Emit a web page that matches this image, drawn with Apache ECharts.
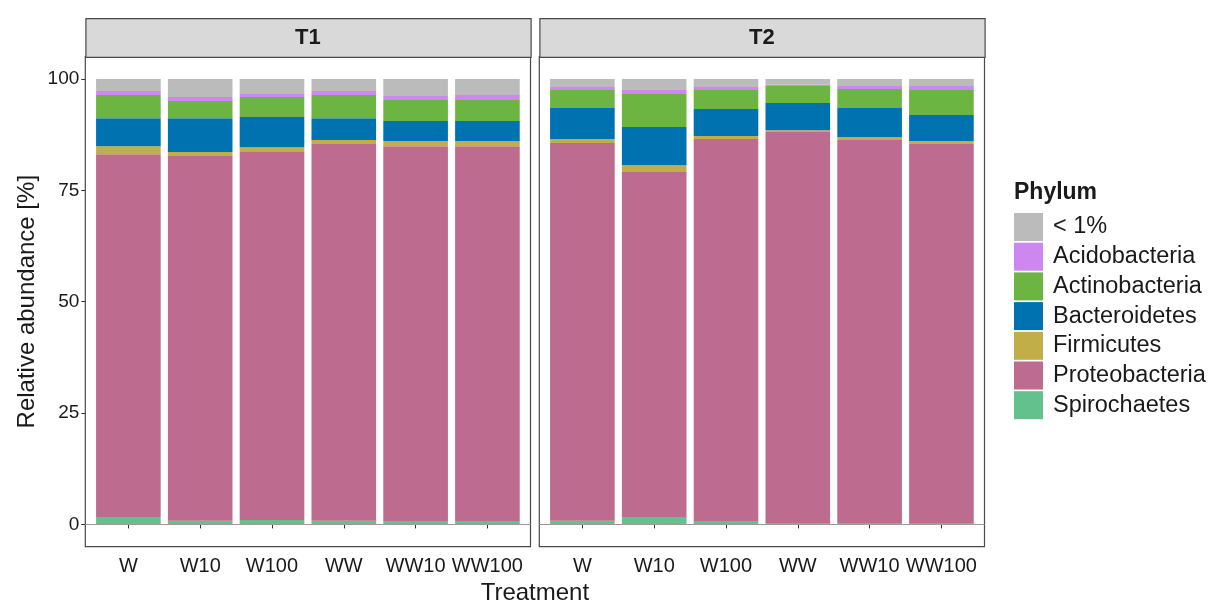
<!DOCTYPE html>
<html>
<head>
<meta charset="utf-8">
<script src="https://cdn.jsdelivr.net/npm/echarts@6/dist/echarts.min.js"></script>
<style>
  html, body { margin: 0; padding: 0; background: #fff; }
  #chart { width: 1213px; height: 603px; }
</style>
</head>
<body>
<div id="chart"></div>
<script>
// Treatments on the x axis, one facet per time point
const categories = ['W', 'W10', 'W100', 'WW', 'WW10', 'WW100'];
const facets = ['T1', 'T2'];
const yTicks = [0, 25, 50, 75, 100];

// Phyla, legend order (top to bottom)
const phyla = ['< 1%', 'Acidobacteria', 'Actinobacteria', 'Bacteroidetes', 'Firmicutes', 'Proteobacteria', 'Spirochaetes'];
const phylumColors = ['#BBBBBB', '#CC88EE', '#6DB543', '#0072B0', '#C1AE48', '#BD6B8E', '#63C18E'];

// Relative abundance [%], T1
const t1Other   = [2.7, 4.05, 3.4, 2.7, 3.8, 3.6];
const t1Acido   = [0.9, 0.9, 0.65, 0.9, 0.9, 1.1];
const t1Actino  = [5.2, 3.85, 4.5, 5.2, 4.75, 4.75];
const t1Bactero = [6.3, 7.6, 6.75, 4.9, 4.5, 4.5];
const t1Firmi   = [1.8, 0.9, 0.9, 0.9, 1.15, 1.15];
const t1Proteo  = [81.6, 81.9, 82.8, 84.6, 84.3, 84.3];
const t1Spiro   = [1.5, 0.8, 1.0, 0.8, 0.6, 0.6];

// Relative abundance [%], T2
const t2Other   = [1.8, 2.5, 1.8, 1.3, 1.6, 1.6];
const t2Acido   = [0.7, 0.9, 0.7, 0.3, 0.65, 0.9];
const t2Actino  = [4.0, 7.4, 4.25, 3.8, 4.25, 5.6];
const t2Bactero = [7.0, 8.55, 6.05, 6.1, 6.55, 5.85];
const t2Firmi   = [0.9, 1.55, 0.7, 0.4, 0.65, 0.65];
const t2Proteo  = [84.8, 77.6, 85.9, 87.8, 86.0, 85.1];
const t2Spiro   = [0.8, 1.5, 0.6, 0.3, 0.3, 0.3];

const facetData = [
  [t1Other, t1Acido, t1Actino, t1Bactero, t1Firmi, t1Proteo, t1Spiro],
  [t2Other, t2Acido, t2Actino, t2Bactero, t2Firmi, t2Proteo, t2Spiro]
];

const FONT = 'Liberation Sans, Arial, sans-serif';
const TEXT = '#1a1a1a';

// panel geometry: each facet has a framed panel grid and an inner grid for the bars,
// inset so the outer categories keep a 0.6-band margin to the frame
const panelTop = 56.7, panelH = 490, panelW = 445.2;
const panelLeft = [85.3, 539.3];
const stripTop = 18;
const band = panelW / (categories.length + 0.2);
const inset = band * 0.1;

const grids = [];
panelLeft.forEach(l => grids.push({
  left: l, top: panelTop, width: panelW, height: panelH,
  show: true, backgroundColor: '#fff', borderColor: '#4a4a4a', borderWidth: 1.2
}));
panelLeft.forEach(l => grids.push({
  left: l + inset, top: panelTop, width: panelW - 2 * inset, height: panelH
}));

const xAxes = [];
const yAxes = [];
// frame grids (0, 1): y scale, labels on the first one only
panelLeft.forEach((l, gi) => {
  xAxes.push({ type: 'value', gridIndex: gi, min: 0, max: 1, show: false });
  yAxes.push({
    type: 'value', gridIndex: gi, min: -5, max: 105,
    splitLine: { show: false },
    axisLine: { show: false },
    axisTick: { show: gi === 0, customValues: yTicks, length: 4, lineStyle: { color: '#333', width: 1 } },
    axisLabel: { show: gi === 0, customValues: yTicks, fontFamily: FONT, fontSize: 19, color: TEXT, margin: 6 },
    name: gi === 0 ? 'Relative abundance [%]' : '',
    nameLocation: 'middle', nameGap: 46, nameRotate: 90,
    nameTextStyle: { fontFamily: FONT, fontSize: 24, color: TEXT }
  });
});
// bar grids (2, 3): treatments
panelLeft.forEach((l, gi) => {
  xAxes.push({
    type: 'category', gridIndex: 2 + gi, data: categories,
    axisLine: { show: false },
    axisTick: { show: true, alignWithLabel: true, interval: 0, length: 4, lineStyle: { color: '#333', width: 1 } },
    axisLabel: { interval: 0, fontFamily: FONT, fontSize: 20, color: TEXT, margin: 10 }
  });
  yAxes.push({ type: 'value', gridIndex: 2 + gi, min: -5, max: 105, show: false, splitLine: { show: false } });
});

const series = [];
// reference line at 0 across each full panel
panelLeft.forEach((l, gi) => series.push({
  type: 'line', xAxisIndex: gi, yAxisIndex: gi, data: [], silent: true,
  markLine: {
    silent: true, symbol: 'none', label: { show: false },
    lineStyle: { color: '#9a9a9a', width: 1, type: 'solid' },
    data: [{ yAxis: 0 }]
  }
}));
// stack from the bottom: Spirochaetes first, "< 1%" last
facetData.forEach((arrs, gi) => {
  for (let k = phyla.length - 1; k >= 0; k--) {
    series.push({
      name: phyla[k], type: 'bar', stack: 'facet' + gi,
      xAxisIndex: 2 + gi, yAxisIndex: 2 + gi,
      barCategoryGap: '10%',
      itemStyle: { color: phylumColors[k] },
      emphasis: { disabled: true },
      data: arrs[k]
    });
  }
});

const graphic = [];
facets.forEach((f, gi) => {
  graphic.push({
    type: 'rect', left: panelLeft[gi], top: stripTop,
    shape: { width: panelW, height: panelTop - stripTop },
    style: { fill: '#d9d9d9', stroke: '#4a4a4a', lineWidth: 1.2 }
  });
  graphic.push({
    type: 'text', x: panelLeft[gi] + panelW / 2, y: (stripTop + panelTop) / 2 + 1,
    style: { text: f, fontFamily: FONT, fontSize: 22, fontWeight: 'bold', fill: TEXT, align: 'center', verticalAlign: 'middle' }
  });
});
graphic.push({
  type: 'text', x: (panelLeft[0] + panelLeft[1] + panelW) / 2, y: 593,
  style: { text: 'Treatment', fontFamily: FONT, fontSize: 24, fill: TEXT, align: 'center', verticalAlign: 'middle' }
});
graphic.push({
  type: 'text', x: 1014, y: 193,
  style: { text: 'Phylum', fontFamily: FONT, fontSize: 23, fontWeight: 'bold', fill: TEXT, align: 'left', verticalAlign: 'middle' }
});

const option = {
  animation: false,
  backgroundColor: '#fff',
  grid: grids,
  xAxis: xAxes,
  yAxis: yAxes,
  legend: {
    data: phyla, orient: 'vertical', left: 1009, top: 208,
    icon: 'rect', itemWidth: 29, itemHeight: 28, itemGap: 1.7,
    selectedMode: false,
    textStyle: { fontFamily: FONT, fontSize: 23.5, color: TEXT, padding: [2, 0, 0, 5] }
  },
  graphic: graphic,
  series: series
};

const chart = echarts.init(document.getElementById('chart'), null, { renderer: 'canvas' });
chart.setOption(option);
</script>
</body>
</html>
